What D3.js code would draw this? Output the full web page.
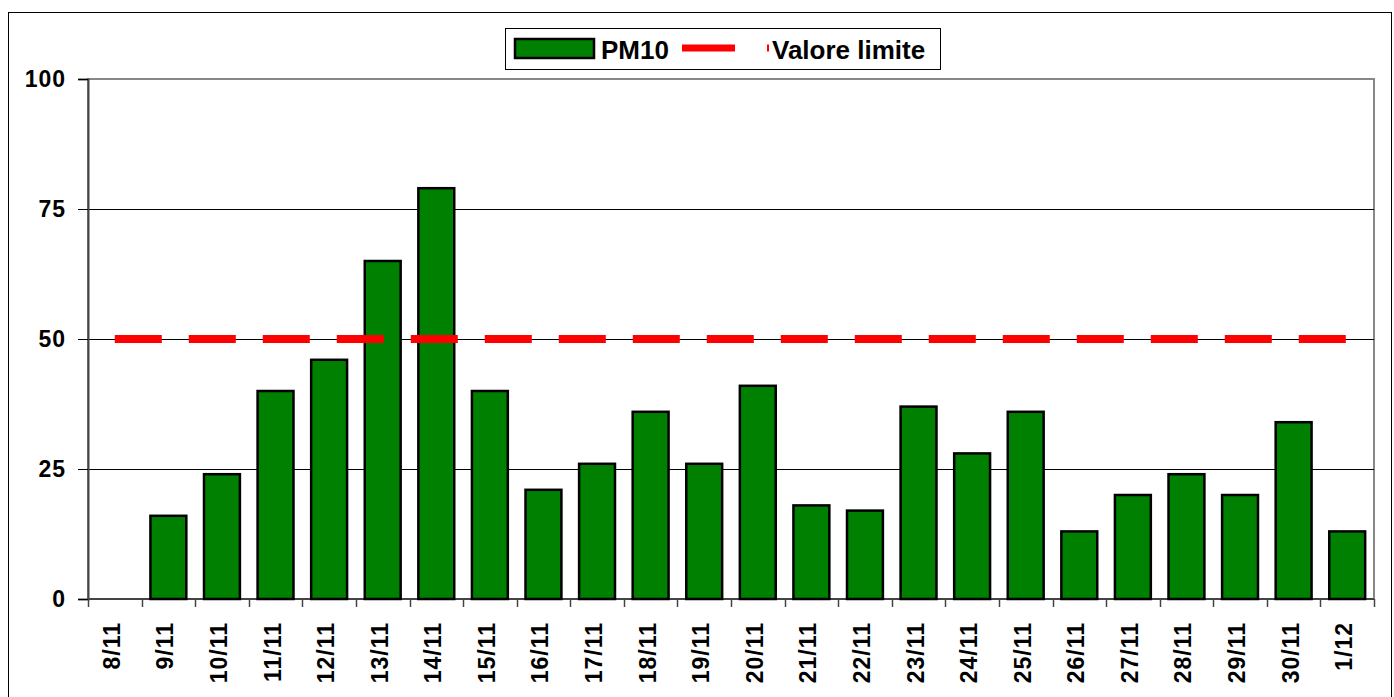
<!DOCTYPE html>
<html>
<head>
<meta charset="utf-8">
<script src="https://cdn.jsdelivr.net/npm/d3@7"></script>
<style>
  body { margin: 0; background: #fff; }
  text { font-family: "Liberation Sans", Arial, sans-serif; font-weight: bold; fill: #000; }
</style>
</head>
<body>
<svg class="chart" width="1394" height="697"></svg>
<script>
// data
const days = ['8/11','9/11','10/11','11/11','12/11','13/11','14/11','15/11','16/11','17/11','18/11','19/11',
              '20/11','21/11','22/11','23/11','24/11','25/11','26/11','27/11','28/11','29/11','30/11','1/12'];
const pm10 = [null,16,24,40,46,65,79,40,21,26,36,26,41,18,17,37,28,36,13,20,24,20,34,13];
const limite = days.map(() => 50);
const yTicks = [0, 25, 50, 75, 100];

const svg = d3.select('.chart');

const margin = {top: 79, right: 20, bottom: 98, left: 88},
      width = 1374 - margin.left,
      height = 599 - margin.top;

// outer frame
svg.append('rect')
    .attr('x', 8.5).attr('y', 12.5)
    .attr('width', 1383).attr('height', 700)
    .attr('fill', 'none').attr('stroke', '#000').attr('stroke-width', 1);

const g = svg.append('g')
    .attr('transform', 'translate(' + margin.left + ',' + margin.top + ')');

const x = d3.scaleBand().domain(days).range([0, width]).paddingInner(0.33).paddingOuter(0.165);
const xc = d3.scalePoint().domain(days).range([0, width]).padding(0.5);
const y = d3.scaleLinear().domain([0, 100]).range([height, 0]);

// plot frame (gray top/right)
g.append('rect')
    .attr('x', 0).attr('y', 0).attr('width', width).attr('height', height)
    .attr('fill', 'none').attr('stroke', '#888').attr('stroke-width', 2);

// gridlines
g.selectAll('.grid')
    .data(yTicks.filter(d => d > 0 && d < 100))
    .enter().append('line')
    .attr('class', 'grid')
    .attr('x1', 0).attr('x2', width)
    .attr('y1', d => Math.round(y(d)) + 0.5).attr('y2', d => Math.round(y(d)) + 0.5)
    .attr('stroke', '#000').attr('stroke-width', 1);

// y axis
const yAxis = g.append('g')
    .call(d3.axisLeft(y).tickValues(yTicks).tickSize(10).tickPadding(12));
yAxis.select('.domain').attr('stroke', '#444').attr('stroke-width', 2);
yAxis.selectAll('.tick line').attr('stroke', '#000');
yAxis.selectAll('text').style('font-size', '23px').style('letter-spacing', '1px');

// x axis: ticks at category boundaries
const xAxis = g.append('g')
    .attr('transform', 'translate(0,' + height + ')');
xAxis.append('line')
    .attr('x1', 0).attr('x2', width).attr('y1', 0).attr('y2', 0)
    .attr('stroke', '#444').attr('stroke-width', 2);
const step = width / days.length;
xAxis.selectAll('.xt')
    .data(d3.range(days.length + 1))
    .enter().append('line')
    .attr('x1', i => Math.round(i * step) + 0.5).attr('x2', i => Math.round(i * step) + 0.5)
    .attr('y1', 0).attr('y2', 8)
    .attr('stroke', '#444').attr('stroke-width', 1.5);
xAxis.selectAll('.xl')
    .data(days)
    .enter().append('text')
    .attr('transform', d => 'translate(' + (xc(d) + 5) + ',23) rotate(-90)')
    .attr('text-anchor', 'end')
    .style('font-size', '23px')
    .style('letter-spacing', '1px')
    .text(d => d);

// bars
g.selectAll('.bar')
    .data(days.map((d, i) => ({day: d, v: pm10[i]})).filter(d => d.v != null))
    .enter().append('rect')
    .attr('class', 'bar')
    .attr('x', d => x(d.day))
    .attr('y', d => y(d.v))
    .attr('width', x.bandwidth())
    .attr('height', d => height - y(d.v))
    .attr('fill', '#008000')
    .attr('stroke', '#000').attr('stroke-width', 2.5);

// limit line
const line = d3.line()
    .x((d, i) => xc(days[i]))
    .y(d => y(d));
g.append('path')
    .datum(limite)
    .attr('d', line)
    .attr('fill', 'none')
    .attr('stroke', '#ff0000')
    .attr('stroke-width', 8)
    .attr('stroke-dasharray', '47,27');

// legend
const lg = svg.append('g').attr('transform', 'translate(505,28)');
lg.append('rect').attr('x', 0.5).attr('y', 0.5).attr('width', 435).attr('height', 41)
    .attr('fill', '#fff').attr('stroke', '#000');
lg.append('rect').attr('x', 10).attr('y', 11).attr('width', 79).attr('height', 19)
    .attr('fill', '#008000').attr('stroke', '#000').attr('stroke-width', 2.5);
lg.append('text').attr('x', 96).attr('y', 31).style('font-size', '26px').text('PM10');
lg.append('line').attr('x1', 177).attr('x2', 230).attr('y1', 20).attr('y2', 20)
    .attr('stroke', '#ff0000').attr('stroke-width', 7);
lg.append('line').attr('x1', 262).attr('x2', 264).attr('y1', 20).attr('y2', 20)
    .attr('stroke', '#ff0000').attr('stroke-width', 7);
lg.append('text').attr('x', 267).attr('y', 31).style('font-size', '26px').text('Valore limite');
</script>
</body>
</html>
